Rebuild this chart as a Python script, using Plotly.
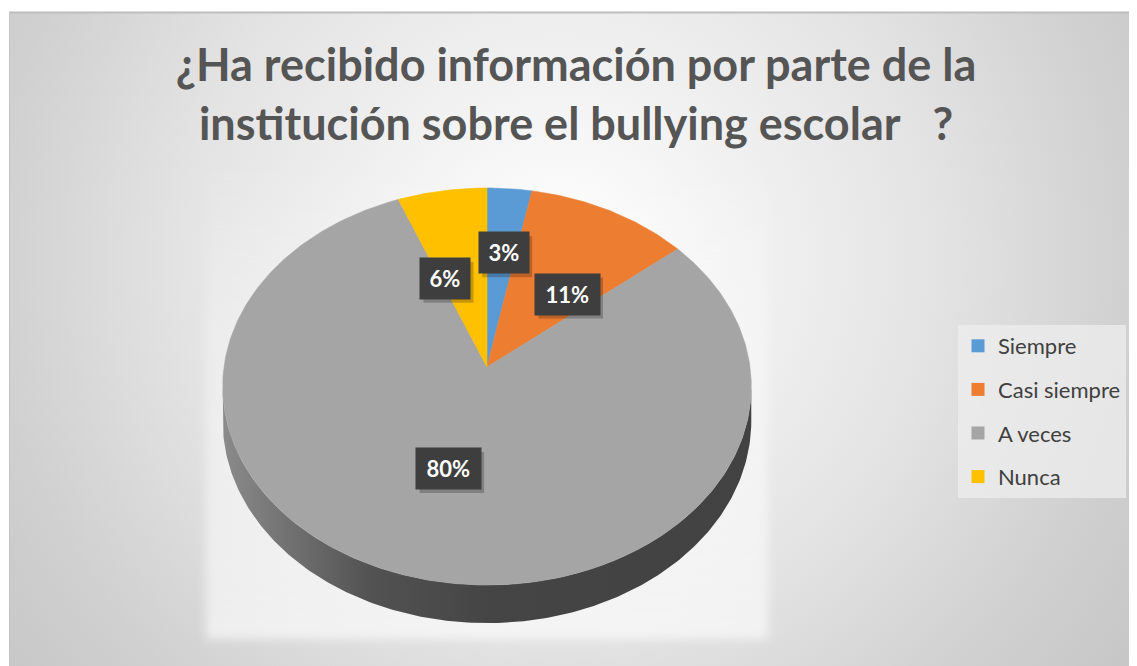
import base64
import numpy as np
import plotly.graph_objects as go

# ---------------- data ----------------
categories = ["Siempre", "Casi siempre", "A veces", "Nunca"]
percentages = [3, 11, 80, 6]
colors = ["#5B9BD5", "#ED7D31", "#A5A5A5", "#FFC000"]
title_lines = ["¿Ha recibido información por parte de la",
               "institución sobre el bullying escolar   ?"]

# ---------------- geometry / style ----------------
SW, SH = 1137, 666         # browser window
OX, OY = 8, 8              # page body margin
W, H = SW - OX, SH - OY    # figure size
CX, CY = 487, 367          # pie centre (screen pixels)
RX, RY = 263, 196.6        # radii of the tilted disc
K = 0.0983                 # perspective factor
DEPTH = 34.3               # thickness of the pie
label_radius = [0.62, 0.50, 0.51, 0.50]
label_dtheta = [1.0, 9.0, 1.3, -8.5]   # degrees nudge of labels
FONT = "Lato"


def px(sx):
    return (sx - OX) / W


def py(sy):
    return 1 - (sy - OY) / H


def proj(theta, r=1.0, drop=0.0):
    u = r * np.sin(theta)
    v = r * np.cos(theta)
    s = 1.0 / (1.0 + K * v)
    return CX + RX * u * s, CY + (-RY * v + drop) * s


fig = go.Figure()

# ---- side of the 3D pie (front part) ----
t1 = np.arccos(-K)
t2 = 2 * np.pi - t1
ts = np.linspace(t1, t2, 200)
xt, yt = proj(ts)
xb, yb = proj(ts[::-1], drop=DEPTH)
fig.add_trace(go.Scatter(
    x=np.concatenate([xt, xb]), y=np.concatenate([yt, yb]),
    mode="lines", fill="toself", line=dict(width=0, color="#444444"),
    fillgradient=dict(type="horizontal", start=CX - RX, stop=CX + RX,
                      colorscale=[[0, "#8a8a8a"], [0.28, "#525252"],
                                  [0.5, "#454545"], [1, "#424242"]]),
    showlegend=False, hoverinfo="skip"))

# ---- top face wedges ----
total = sum(percentages)
cum = np.cumsum([0] + percentages) / total
for i, (cat, p, c) in enumerate(zip(categories, percentages, colors)):
    a0, a1 = 2 * np.pi * cum[i], 2 * np.pi * cum[i + 1]
    th = np.linspace(a0, a1, max(int(p * 4), 8))
    xe, ye = proj(th)
    xs = np.concatenate([[CX], xe, [CX]])
    ys = np.concatenate([[CY], ye, [CY]])
    fig.add_trace(go.Scatter(
        x=xs, y=ys, mode="lines", fill="toself",
        fillcolor=c, line=dict(width=0.6, color=c),
        showlegend=False, hoverinfo="skip"))

# ---- legend entries ----
for cat, c in zip(categories, colors):
    fig.add_trace(go.Scatter(
        x=[None], y=[None], mode="markers", name=cat, legendgroup=cat,
        marker=dict(symbol="square", size=13, color=c)))

# ---- data labels (dark boxes with soft shadow) ----
annotations = []
shapes = []
LS = 22
PAD = 7
BOX_H = 27
for i, p in enumerate(percentages):
    mid = np.pi * (cum[i] + cum[i + 1]) + np.radians(label_dtheta[i])
    lx, ly = proj(mid, r=label_radius[i])
    txt = f"{p}%"
    w = 14.5 * len(txt) + 7
    tw, th_ = w + 2 * PAD, BOX_H + 2 * PAD
    shapes.append(dict(type="rect", xref="x", yref="y",
                       xsizemode="pixel", ysizemode="pixel",
                       xanchor=float(lx), yanchor=float(ly),
                       x0=-tw / 2 + 3, x1=tw / 2 + 3,
                       y0=-th_ / 2 - 4, y1=th_ / 2 - 4,
                       fillcolor="rgba(0,0,0,0.22)", line=dict(width=0),
                       layer="above"))
    annotations.append(dict(x=float(lx), y=float(ly), xref="x", yref="y",
                            showarrow=False, text=f"<b>{txt}</b>",
                            width=w, height=BOX_H, borderpad=PAD,
                            bgcolor="#3e3e3e",
                            font=dict(family=FONT, size=LS, color="#ffffff")))

# ---- background (radial gradient + glow behind pie), drawn in figure pixels ----
gx0, gx1 = CX - RX - 18 - OX, CX + RX + 18 - OX
gy0, gy1 = CY - RY - 10 - OY, CY + RY / (1 - K) + DEPTH / (1 - K) + 16 - OY
svg = f'''<svg xmlns="http://www.w3.org/2000/svg" width="{W}" height="{H}" viewBox="0 0 {W} {H}">
<defs>
<radialGradient id="g" gradientUnits="userSpaceOnUse" cx="{560 - OX}" cy="{260 - OY}" r="760">
<stop offset="0" stop-color="#ffffff"/>
<stop offset="0.2" stop-color="#f4f4f4"/>
<stop offset="0.5" stop-color="#e3e3e3"/>
<stop offset="0.75" stop-color="#d0d0d0"/>
<stop offset="1" stop-color="#c2c2c2"/>
</radialGradient>
<linearGradient id="v" x1="0" y1="0" x2="0" y2="1">
<stop offset="0" stop-color="#ffffff" stop-opacity="0"/>
<stop offset="0.45" stop-color="#ffffff" stop-opacity="0.35"/>
<stop offset="1" stop-color="#ffffff" stop-opacity="0.6"/>
</linearGradient>
<filter id="b" x="-20%" y="-20%" width="140%" height="140%"><feGaussianBlur stdDeviation="5"/></filter>
</defs>
<rect x="0" y="0" width="{W}" height="{H}" fill="#ffffff"/>
<rect x="{9 - OX}" y="{12 - OY}" width="{W}" height="{H}" fill="url(#g)"/>
<rect x="{gx0}" y="{gy0}" width="{gx1 - gx0}" height="{gy1 - gy0}" fill="url(#v)" filter="url(#b)"/>
<line x1="{9 - OX}" y1="{12.5 - OY}" x2="{W}" y2="{12.5 - OY}" stroke="#bdbdbd" stroke-width="2"/>
<line x1="{9.5 - OX}" y1="{12 - OY}" x2="{9.5 - OX}" y2="{H}" stroke="#c4c4c4" stroke-width="1"/>
</svg>'''
src = "data:image/svg+xml;base64," + base64.b64encode(svg.encode("utf-8")).decode("ascii")

fig.update_layout(
    width=W, height=H,
    margin=dict(l=0, r=0, t=0, b=0),
    paper_bgcolor="#ffffff", plot_bgcolor="rgba(0,0,0,0)",
    images=[dict(source=src, xref="paper", yref="paper", x=0, y=1,
                 sizex=1, sizey=1, xanchor="left", yanchor="top",
                 sizing="stretch", layer="below")],
    xaxis=dict(range=[OX, SW], visible=False, fixedrange=True),
    yaxis=dict(range=[SH, OY], visible=False, fixedrange=True),
    title=dict(text="<br>".join(title_lines), x=px(576), xanchor="center",
               y=py(81), yanchor="top", yref="container",
               font=dict(family=FONT, size=45, color="#555555", weight="bold")),
    legend=dict(x=px(958), y=py(325), xanchor="left", yanchor="top",
                bgcolor="rgba(238,238,238,0.75)", borderwidth=0,
                font=dict(family=FONT, size=22, color="#404040"),
                traceorder="grouped", tracegroupgap=12, itemwidth=30),
    annotations=annotations,
    shapes=shapes,
    showlegend=True,
)

fig.write_html("out.html")
